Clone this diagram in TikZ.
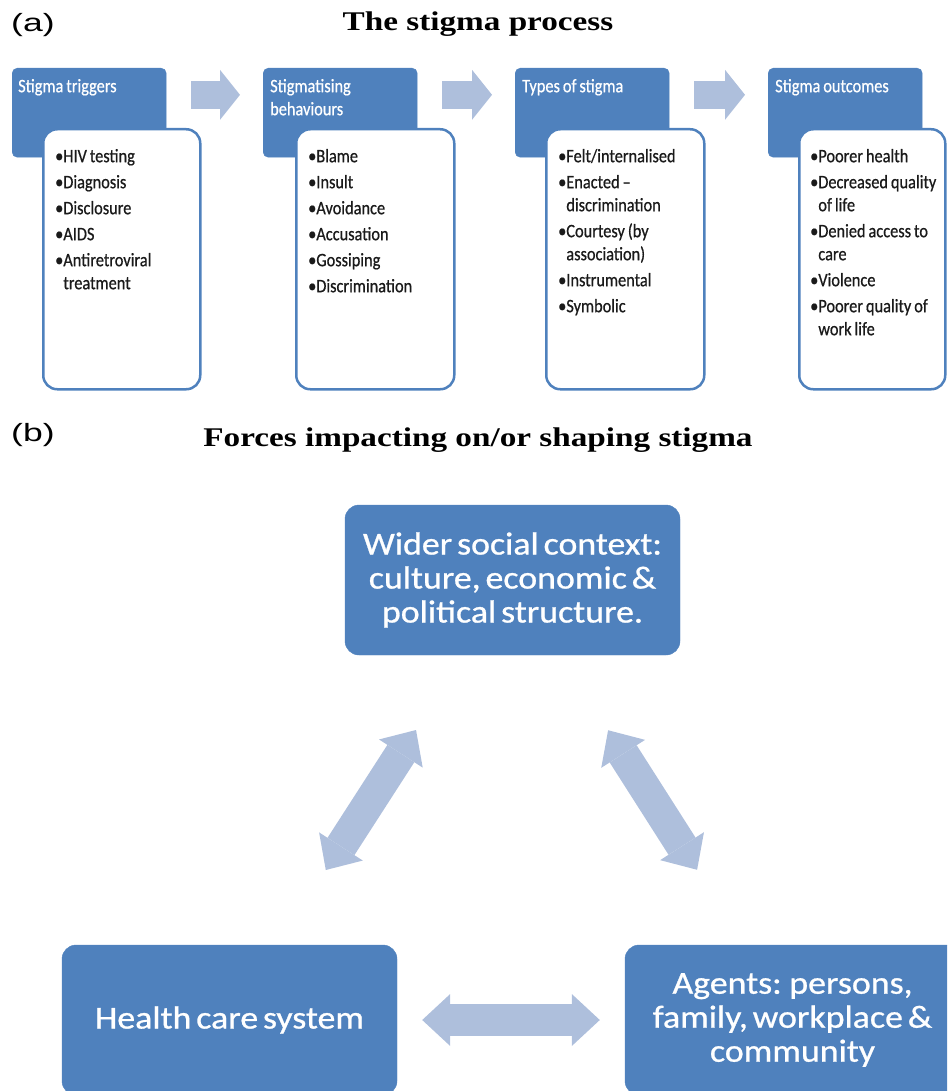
\documentclass[tikz,border=0pt]{standalone}
\usepackage{fontspec}
\setmainfont{Liberation Serif}
\newfontfamily\ttlfont[FakeStretch=1.23]{Liberation Serif}
\newfontfamily\labfont[FakeStretch=1.42]{Liberation Sans}
\newfontfamily\smfont[FakeStretch=0.86,FakeBold=0.6,WordSpace=0.8]{Carlito}
\newfontfamily\bgfont[FakeStretch=1.12,FakeBold=0.8,WordSpace=0.6]{Carlito}
\usetikzlibrary{arrows.meta,calc}
\definecolor{dkblue}{HTML}{4F81BD}
\definecolor{ltblue}{HTML}{AEBFDC}
\definecolor{txtgray}{HTML}{1A1A1A}
\newcommand{\cnt}{\hphantom{•}}
\begin{document}
\begin{tikzpicture}[x=1pt,y=-1pt,
  hdr/.style={fill=dkblue, draw=dkblue, rounded corners=5pt, minimum width=154pt, minimum height=89pt, anchor=north west, inner sep=0pt},
  lst/.style={fill=white, draw=dkblue, line width=2.5pt, rounded corners=14pt, minimum height=260pt, anchor=north west, inner sep=0pt},
  hdrtxt/.style={anchor=north west, inner sep=0pt, align=left, text=white, font=\smfont\fontsize{19}{23}\selectfont},
  lsttxt/.style={anchor=north west, inner sep=0pt, align=left, text=txtgray, font=\smfont\fontsize{19}{23}\selectfont},
  bbox/.style={fill=dkblue, draw=dkblue, rounded corners=14pt, minimum width=335pt, minimum height=150pt, inner sep=0pt, text=white, align=center, font=\bgfont\fontsize{32}{34}\selectfont},
  arr/.style={draw=ltblue, line width=28pt, -{Triangle[length=20pt,width=50pt,line width=0pt]}, shorten <=25pt, shorten >=23pt},
  dbl/.style={draw=ltblue, line width=32pt, {Triangle[length=28pt,width=52pt,line width=0pt]}-{Triangle[length=28pt,width=52pt,line width=0pt]}},
  lab/.style={anchor=base west, inner sep=0pt, font=\labfont\fontsize{25}{29}\selectfont},
  ttl/.style={anchor=base, inner sep=0pt, font=\ttlfont\bfseries\fontsize{27}{32}\selectfont}
]
\path[use as bounding box] (0,0) rectangle (947,1091);
\clip (0,0) rectangle (947,1091);

% ---------- (a) ----------
\node[lab] (la) at (11,32) {(a)};
\node[ttl] (ta) at (478,31) {The stigma process};

\node[hdr] (h1) at (12,68) {};
\node[hdr] (h2) at (263,68) {};
\node[hdr] (h3) at (515,68) {};
\node[hdr] (h4) at (768,68) {};

\node[lst, minimum width=157pt] (l1) at (42,128) {};
\node[lst, minimum width=158pt] (l2) at (295,128) {};
\node[lst, minimum width=158pt] (l3) at (545,128) {};
\node[lst, minimum width=146pt] (l4) at (798,128) {};

\node[hdrtxt] (ht1) at (18,76) {\rule{0pt}{16pt}Stigma triggers};
\node[hdrtxt] (ht2) at (270,76) {\rule{0pt}{16pt}Stigmatising\\behaviours};
\node[hdrtxt] (ht3) at (522,76) {\rule{0pt}{16pt}Types of stigma};
\node[hdrtxt] (ht4) at (775,76) {\rule{0pt}{16pt}Stigma outcomes};

\node[lsttxt] (t1) at (55,146) {\rule{0pt}{16pt}•HIV testing\\[3pt]•Diagnosis\\[3pt]•Disclosure\\[3pt]•AIDS\\[3pt]•Antiretroviral\\\cnt treatment};
\node[lsttxt] (t2) at (308,146) {\rule{0pt}{16pt}•Blame\\[3pt]•Insult\\[3pt]•Avoidance\\[3pt]•Accusation\\[3pt]•Gossiping\\[3pt]•Discrimination};
\node[lsttxt] (t3) at (558,146) {\rule{0pt}{16pt}•Felt/internalised\\[3pt]•Enacted –\\\cnt discrimination\\[3pt]•Courtesy (by\\\cnt association)\\[3pt]•Instrumental\\[3pt]•Symbolic};
\node[lsttxt] (t4) at (810,146) {\rule{0pt}{16pt}•Poorer health\\[3pt]•Decreased quality\\\cnt of life\\[3pt]•Denied access to\\\cnt care\\[3pt]•Violence\\[3pt]•Poorer quality of\\\cnt work life};

\draw[arr] ($(h1.north east)!0.3!(h1.south east)$) -- ($(h2.north west)!0.3!(h2.south west)$);
\draw[arr] ($(h2.north east)!0.3!(h2.south east)$) -- ($(h3.north west)!0.3!(h3.south west)$);
\draw[arr] ($(h3.north east)!0.3!(h3.south east)$) -- ($(h4.north west)!0.3!(h4.south west)$);

% ---------- (b) ----------
\node[lab] (lb) at (11,441) {(b)};
\node[ttl] (tb) at (478,446) {Forces impacting on/or shaping stigma};

\node[bbox] (ctx) at (512.5,580) {Wider social context:\\culture, economic \&\\political structure.};
\node[bbox] (hcs) at (229.5,1020) {Health care system};
\node[bbox] (agt) at (792.5,1020) {Agents: persons,\\family, workplace \&\\community};

\draw[dbl, shorten <=89pt, shorten >=89pt] (ctx) -- (hcs);
\draw[dbl, shorten <=89pt, shorten >=89pt] (ctx) -- (agt);
\draw[dbl, shorten <=25pt, shorten >=25pt] (hcs) -- (agt);
\end{tikzpicture}
\end{document}
